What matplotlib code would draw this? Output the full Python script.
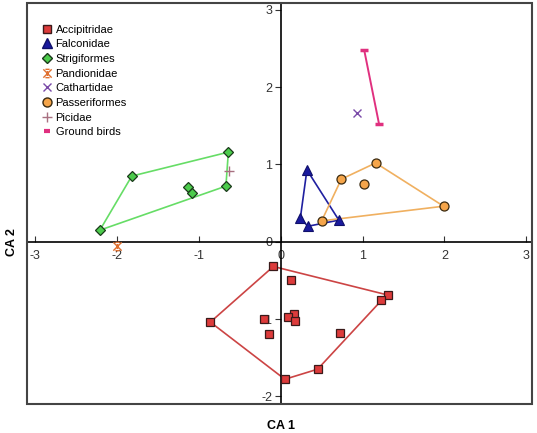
import matplotlib
matplotlib.use('Agg')
import matplotlib.pyplot as plt
from matplotlib.lines import Line2D
from matplotlib.patches import Rectangle
from matplotlib.path import Path

plt.rcParams['font.family'] = ['Liberation Sans', 'DejaVu Sans']

# CA scores
accip_x = [-0.09, 0.12, 1.31, 1.23, -0.86, -0.20, -0.14, 0.16, 0.09, 0.18, 0.73, 0.45, 0.05]
accip_y = [-0.32, -0.50, -0.69, -0.76, -1.04, -1.00, -1.19, -0.94, -0.98, -1.02, -1.18, -1.65, -1.78]
accip_hull = [0, 2, 3, 11, 12, 4, 0]

falco_x = [0.32, 0.24, 0.33, 0.71]
falco_y = [0.93, 0.31, 0.20, 0.28]
falco_hull = [0, 1, 2, 3, 0]

strig_x = [-0.64, -1.82, -2.21, -0.67, -1.13, -1.08]
strig_y = [1.16, 0.85, 0.15, 0.72, 0.71, 0.63]
strig_hull = [0, 1, 2, 3, 0]

passer_x = [0.50, 0.74, 1.16, 1.02, 1.99]
passer_y = [0.27, 0.81, 1.02, 0.75, 0.46]
passer_hull = [0, 1, 2, 4, 0]

pandion_x = [-2.00]
pandion_y = [-0.05]
cathart_x = [0.93]
cathart_y = [1.67]
picid_x = [-0.63]
picid_y = [0.92]
ground_x = [1.02, 1.20]
ground_y = [2.48, 1.53]

xticks = [-3, -2, -1, 0, 1, 2, 3]
yticks = [-2, -1, 0, 1, 2, 3]

# asterisk-like x with caps for Pandionidae
pand_marker = Path([(-1, -1), (1, 1), (-1, 1), (1, -1), (-0.5, 1), (0.5, 1), (-0.5, -1), (0.5, -1),
                    (0, -0.6), (0, 0.6)],
                   [Path.MOVETO, Path.LINETO, Path.MOVETO, Path.LINETO,
                    Path.MOVETO, Path.LINETO, Path.MOVETO, Path.LINETO,
                    Path.MOVETO, Path.LINETO])

fig = plt.figure(figsize=(5.37, 4.33), dpi=100)
ax = fig.add_axes([0.0503, 0.067, 0.9404, 0.926])


def hull(xs, ys, idx, color):
    ax.plot([xs[i] for i in idx], [ys[i] for i in idx], color=color, lw=1.2, zorder=2)


hull(accip_x, accip_y, accip_hull, '#cc4444')
hull(falco_x, falco_y, falco_hull, '#2020a0')
hull(strig_x, strig_y, strig_hull, '#66dd66')
hull(passer_x, passer_y, passer_hull, '#f0b060')
ax.plot(ground_x, ground_y, color='#e0307f', lw=1.4, marker='_', ms=6, mew=2.5, zorder=2)

ax.plot(accip_x, accip_y, 's', ms=6, mfc='#dd3b3b', mec='#3a1a1a', mew=0.9, ls='none', zorder=3)
ax.plot(falco_x, falco_y, '^', ms=7, mfc='#1a1a9e', mec='#10106a', mew=0.8, ls='none', zorder=3)
ax.plot(strig_x, strig_y, 'D', ms=5.5, mfc='#4ccc4c', mec='#1a3a1a', mew=0.9, ls='none', zorder=3)
ax.plot(passer_x, passer_y, 'o', ms=6.5, mfc='#f5a54a', mec='#3a2a10', mew=0.9, ls='none', zorder=3)
ax.plot(pandion_x, pandion_y, marker=pand_marker, ms=6, mec='#e07030', mew=1.0, ls='none', zorder=3)
ax.plot(cathart_x, cathart_y, 'x', ms=6, mec='#7a4aa8', mew=1.0, ls='none', zorder=3)
ax.plot(picid_x, picid_y, '+', ms=7, mec='#a87080', mew=1.0, ls='none', zorder=3)

ax.set_xlim(-3.10, 3.07)
ax.set_ylim(-2.10, 3.09)
ax.set_xticks(xticks)
ax.set_yticks(yticks)
ax.set_xticklabels([str(t) for t in xticks])
ax.set_yticklabels([str(t) for t in yticks])

ax.spines['left'].set_position(('data', 0))
ax.spines['bottom'].set_position(('data', 0))
ax.spines['right'].set_visible(False)
ax.spines['top'].set_visible(False)
for s in ['left', 'bottom']:
    ax.spines[s].set_color('black')
    ax.spines[s].set_linewidth(1.2)
ax.add_patch(Rectangle((0, 0), 1, 1, transform=ax.transAxes, fill=False,
                       edgecolor='#444444', lw=1.5, clip_on=False, zorder=5))

ax.tick_params(axis='x', direction='in', length=4, width=0.8, labelsize=9,
               colors='#333333', pad=6)
ax.tick_params(axis='y', direction='out', length=4, width=0.8, labelsize=9,
               colors='#333333', pad=2)

ax.set_xlabel('CA 1', fontsize=9, fontweight='bold')
ax.xaxis.set_label_coords(0.502, -0.04)
ax.set_ylabel('CA 2', fontsize=9, fontweight='bold')
ax.yaxis.set_label_coords(-0.018, 0.404)

handles = [
    Line2D([], [], marker='s', ms=6, mfc='#dd3b3b', mec='#3a1a1a', ls='none'),
    Line2D([], [], marker='^', ms=7, mfc='#1a1a9e', mec='#10106a', ls='none'),
    Line2D([], [], marker='D', ms=5.5, mfc='#4ccc4c', mec='#1a3a1a', ls='none'),
    Line2D([], [], marker=pand_marker, ms=6, mec='#e07030', ls='none'),
    Line2D([], [], marker='x', ms=6, mec='#7a4aa8', ls='none'),
    Line2D([], [], marker='o', ms=6.5, mfc='#f5a54a', mec='#3a2a10', ls='none'),
    Line2D([], [], marker='+', ms=7, mec='#a87080', ls='none'),
    Line2D([], [], marker='_', ms=5, mec='#e0307f', mew=3, ls='none'),
]
labels = ['Accipitridae', 'Falconidae', 'Strigiformes', 'Pandionidae',
          'Cathartidae', 'Passeriformes', 'Picidae', 'Ground birds']
ax.legend(handles, labels, loc='upper left', bbox_to_anchor=(0.018, 0.963), frameon=False,
          fontsize=8, handlelength=0.8, handletextpad=0.35, labelspacing=0.42,
          borderaxespad=0.2)

fig.savefig('out.png', dpi=100)
